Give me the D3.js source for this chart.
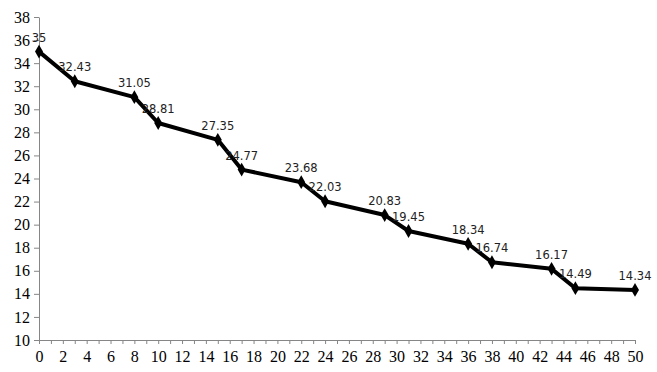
<!DOCTYPE html>
<html lang="en">
<head>
  <meta charset="UTF-8">
  <script src="https://cdn.jsdelivr.net/npm/d3@7"></script>
  <style>
    body { margin: 0; background: #fff; }
  </style>
</head>
<body>
  <div id="wrapper"></div>
  <script>
    // values
    const xValues = [0, 3, 8, 10, 15, 17, 22, 24, 29, 31, 36, 38, 43, 45, 50];
    const yValues = [35, 32.43, 31.05, 28.81, 27.35, 24.77, 23.68, 22.03, 20.83, 19.45, 18.34, 16.74, 16.17, 14.49, 14.34];
    const xTicks = d3.range(0, 51, 1);
    const xTickLabels = d3.range(0, 51, 2);
    const yTicks = d3.range(10, 39, 2);

    const data = xValues.map((x, i) => ({ x: x, y: yValues[i] }));

    const dimensions = {
      width: 657,
      height: 372,
      margin: { top: 17, right: 22, bottom: 32, left: 39 },
    };
    dimensions.boundedWidth = dimensions.width - dimensions.margin.left - dimensions.margin.right;
    dimensions.boundedHeight = dimensions.height - dimensions.margin.top - dimensions.margin.bottom;

    const svg = d3.select("#wrapper")
      .append("svg")
      .attr("width", dimensions.width)
      .attr("height", dimensions.height);

    const bounds = svg.append("g")
      .attr("transform", `translate(${dimensions.margin.left},${dimensions.margin.top})`);

    const xScale = d3.scaleLinear()
      .domain([0, 50])
      .range([0, dimensions.boundedWidth]);

    const yScale = d3.scaleLinear()
      .domain([10, 38])
      .range([dimensions.boundedHeight, 0]);

    // axes
    const xAxis = bounds.append("g")
      .attr("transform", `translate(0,${dimensions.boundedHeight})`)
      .attr("font-family", "'Liberation Serif', serif")
      .attr("font-size", 16)
      .call(d3.axisBottom(xScale)
        .tickValues(xTicks)
        .tickSize(4)
        .tickFormat(d => xTickLabels.includes(d) ? d : ""));
    xAxis.attr("font-family", "'Liberation Serif', serif").attr("font-size", 16);
    xAxis.select(".domain").attr("stroke", "#868686");
    xAxis.selectAll(".tick line").attr("stroke", "#868686");
    xAxis.selectAll(".tick text").attr("fill", "#000").attr("dy", "0.95em").attr("y", 7);

    const yAxis = bounds.append("g")
      .call(d3.axisLeft(yScale)
        .tickValues(yTicks)
        .tickSize(5)
        .tickSizeOuter(0));
    yAxis.attr("font-family", "'Liberation Serif', serif").attr("font-size", 16);
    yAxis.select(".domain").attr("stroke", "#868686");
    yAxis.selectAll(".tick line").attr("stroke", "#868686");
    yAxis.selectAll(".tick text").attr("fill", "#000").attr("x", -9);

    // line
    const lineGenerator = d3.line()
      .x(d => xScale(d.x))
      .y(d => yScale(d.y));

    bounds.append("path")
      .attr("d", lineGenerator(data))
      .attr("fill", "none")
      .attr("stroke", "#000")
      .attr("stroke-width", 4)
      .attr("stroke-linejoin", "round");

    bounds.selectAll(".marker")
      .data(data)
      .join("path")
      .attr("class", "marker")
      .attr("d", d3.symbol(d3.symbolDiamond, 55))
      .attr("transform", d => `translate(${xScale(d.x)},${yScale(d.y)})`)
      .attr("fill", "#000");

    bounds.selectAll(".data-label")
      .data(data)
      .join("text")
      .attr("class", "data-label")
      .attr("x", d => xScale(d.x))
      .attr("y", d => yScale(d.y) - 10)
      .attr("text-anchor", "middle")
      .attr("font-family", "'DejaVu Sans', sans-serif")
      .attr("font-size", 11.5)
      .attr("fill", "#222")
      .text(d => d.y);
  </script>
</body>
</html>
